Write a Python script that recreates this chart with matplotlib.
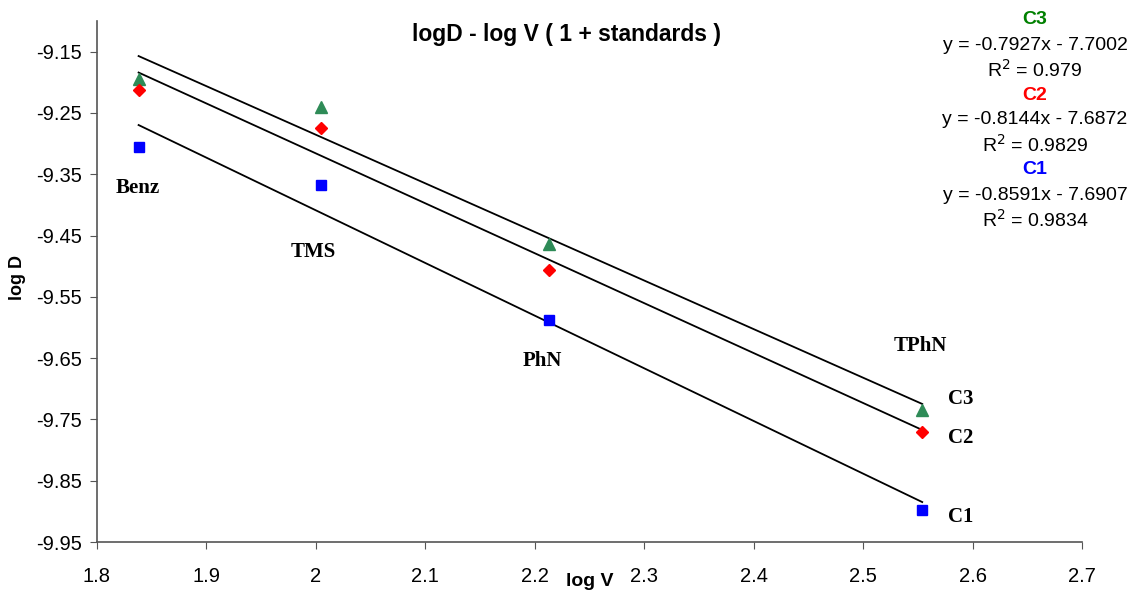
import numpy as np
import matplotlib.pyplot as plt

plt.rcParams['font.family'] = ['Liberation Sans', 'DejaVu Sans']

# log V of the standards (Benz, TMS, PhN, TPhN)
logV = np.array([1.838, 2.005, 2.213, 2.554])
names = ["Benz", "TMS", "PhN", "TPhN"]

# log D for the three concentrations
c3 = np.array([-9.194, -9.241, -9.464, -9.735])
c2 = np.array([-9.213, -9.275, -9.507, -9.770])
c1 = np.array([-9.305, -9.367, -9.588, -9.897])

# trendlines as printed on the chart
slopes = [-0.7927, -0.8144, -0.8591]
intercepts = [-7.7002, -7.6872, -7.6907]
r2 = ["0.979", "0.9829", "0.9834"]

fig = plt.figure(figsize=(11.35, 5.92), dpi=100)
ax = fig.add_axes([97/1135, 1 - 542/592, (1082 - 97)/1135, (542 - 21)/592])

series = [("C3", c3, "^", "#2E8B57", 9),
          ("C2", c2, "D", "#FF0000", 6.5),
          ("C1", c1, "s", "#0000FF", 7.5)]

xs = np.array([logV[0], logV[-1]])
for (nom, y, m, col, ms), a, b in zip(series, slopes, intercepts):
    ax.plot(xs, a * xs + b, color="black", lw=1.3, zorder=2)
    ax.plot(logV, y, m, color=col, ms=ms, mec=col, ls="none", zorder=3)

ax.set_xlim(1.8, 2.7)
ax.set_ylim(-9.95, -9.10)
ax.set_xticks(np.arange(1.8, 2.71, 0.1))
ax.set_xticklabels(["1.8", "1.9", "2", "2.1", "2.2", "2.3", "2.4", "2.5", "2.6", "2.7"])
ax.set_yticks(np.arange(-9.95, -9.14, 0.1))
ax.set_yticklabels([f"{v:.2f}" for v in np.arange(-9.95, -9.14, 0.1)])
ax.tick_params(labelsize=14.5, direction="out", length=5, color="#555555")
ax.tick_params(axis="y", pad=6)
ax.tick_params(axis="x", pad=13)
for s in ["top", "right"]:
    ax.spines[s].set_visible(False)
for s in ["left", "bottom"]:
    ax.spines[s].set_color("#555555")
    ax.spines[s].set_linewidth(1.2)

fig.text(590/1135, 1 - 582/592, "log V", fontsize=14, fontweight="bold", ha="center", va="center")
fig.text(18/1135, 1 - 278/592, "log D", fontsize=13, fontweight="bold", rotation=90,
         ha="center", va="center")
fig.text(567/1135, 1 - 35/592, "logD - log V ( 1 + standards )", ha="center", va="center",
         fontsize=16.5, fontweight="bold")

# labels of the standards
serif = dict(family="Liberation Serif", fontweight="bold", fontsize=15)
pos = [(1.8375, -9.373), (1.9975, -9.477), (2.2068, -9.655), (2.552, -9.630)]
for n, (px, py) in zip(names, pos):
    ax.text(px, py, n, ha="center", va="center", **serif)
for n, yy in zip(["C3", "C2", "C1"], [-9.717, -9.780, -9.909]):
    ax.text(2.589, yy, n, ha="center", va="center", **serif)

# equations at right
cols = ["#008000", "#FF0000", "#0000FF"]
yy = 20
for (nom, *_), a, b, r, col in zip(series, slopes, intercepts, r2, cols):
    fig.text(1035/1135, 1 - yy/592, nom, color=col, fontweight="bold", fontsize=14,
             ha="center", va="center")
    fig.text(1035/1135, 1 - (yy + 25)/592, f"y = {a}x - {abs(b):.4f}", fontsize=14,
             ha="center", va="center")
    fig.text(1035/1135, 1 - (yy + 50)/592, f"R$^2$ = {r}", fontsize=14,
             ha="center", va="center")
    yy += 75

fig.savefig("out.png", dpi=100)
